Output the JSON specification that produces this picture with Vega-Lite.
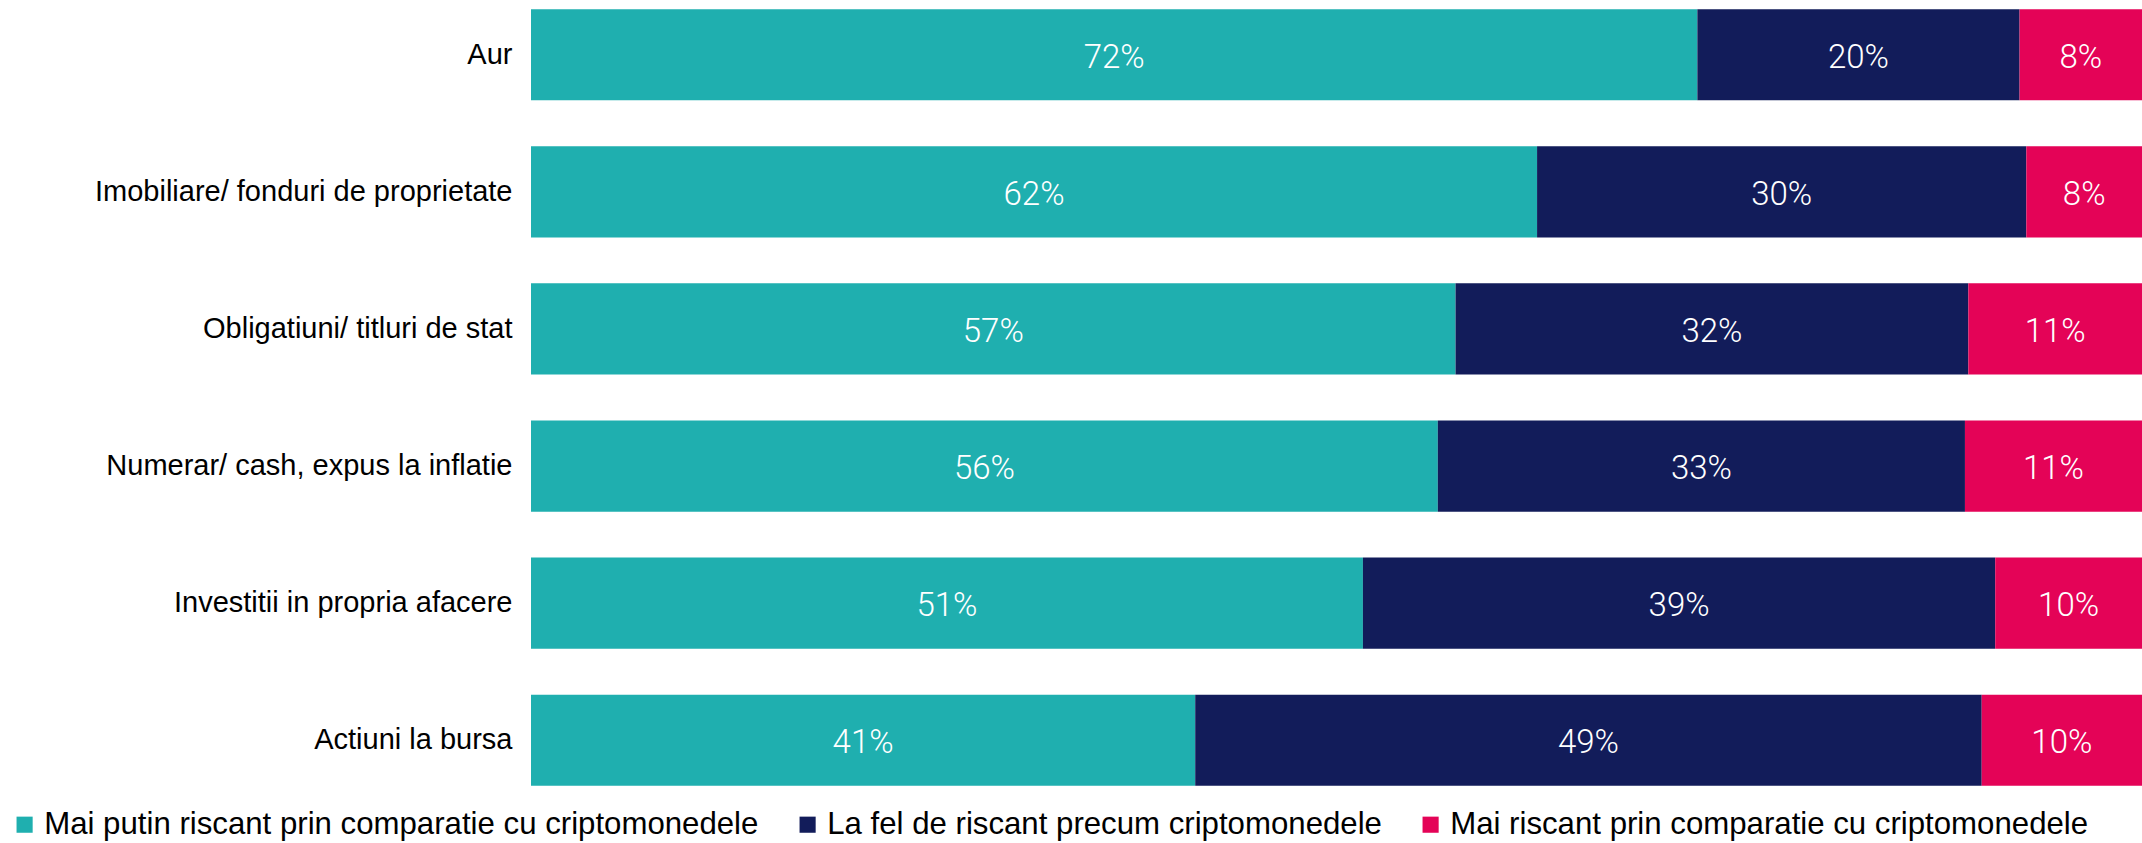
{
  "$schema": "https://vega.github.io/schema/vega-lite/v6.json",
  "autosize": "none",
  "width": 1611,
  "height": 795,
  "padding": {"left": 531, "top": 0, "right": 0, "bottom": 48},
  "background": "#ffffff",
  "config": {"view": {"stroke": null}, "font": "Liberation Sans"},
  "data": {
    "values": [
      {"cat": "Aur", "series": "Mai putin riscant prin comparatie cu criptomonedele", "ord": 1, "value": 72.4, "label": "72%"},
      {"cat": "Aur", "series": "La fel de riscant precum criptomonedele", "ord": 2, "value": 20.0, "label": "20%"},
      {"cat": "Aur", "series": "Mai riscant prin comparatie cu criptomonedele", "ord": 3, "value": 7.6, "label": "8%"},
      {"cat": "Imobiliare/ fonduri de proprietate", "series": "Mai putin riscant prin comparatie cu criptomonedele", "ord": 1, "value": 62.45, "label": "62%"},
      {"cat": "Imobiliare/ fonduri de proprietate", "series": "La fel de riscant precum criptomonedele", "ord": 2, "value": 30.37, "label": "30%"},
      {"cat": "Imobiliare/ fonduri de proprietate", "series": "Mai riscant prin comparatie cu criptomonedele", "ord": 3, "value": 7.18, "label": "8%"},
      {"cat": "Obligatiuni/ titluri de stat", "series": "Mai putin riscant prin comparatie cu criptomonedele", "ord": 1, "value": 57.39, "label": "57%"},
      {"cat": "Obligatiuni/ titluri de stat", "series": "La fel de riscant precum criptomonedele", "ord": 2, "value": 31.83, "label": "32%"},
      {"cat": "Obligatiuni/ titluri de stat", "series": "Mai riscant prin comparatie cu criptomonedele", "ord": 3, "value": 10.78, "label": "11%"},
      {"cat": "Numerar/ cash, expus la inflatie", "series": "Mai putin riscant prin comparatie cu criptomonedele", "ord": 1, "value": 56.29, "label": "56%"},
      {"cat": "Numerar/ cash, expus la inflatie", "series": "La fel de riscant precum criptomonedele", "ord": 2, "value": 32.72, "label": "33%"},
      {"cat": "Numerar/ cash, expus la inflatie", "series": "Mai riscant prin comparatie cu criptomonedele", "ord": 3, "value": 10.99, "label": "11%"},
      {"cat": "Investitii in propria afacere", "series": "Mai putin riscant prin comparatie cu criptomonedele", "ord": 1, "value": 51.64, "label": "51%"},
      {"cat": "Investitii in propria afacere", "series": "La fel de riscant precum criptomonedele", "ord": 2, "value": 39.25, "label": "39%"},
      {"cat": "Investitii in propria afacere", "series": "Mai riscant prin comparatie cu criptomonedele", "ord": 3, "value": 9.11, "label": "10%"},
      {"cat": "Actiuni la bursa", "series": "Mai putin riscant prin comparatie cu criptomonedele", "ord": 1, "value": 41.23, "label": "41%"},
      {"cat": "Actiuni la bursa", "series": "La fel de riscant precum criptomonedele", "ord": 2, "value": 48.82, "label": "49%"},
      {"cat": "Actiuni la bursa", "series": "Mai riscant prin comparatie cu criptomonedele", "ord": 3, "value": 9.95, "label": "10%"}
    ]
  },
  "transform": [
    {"stack": "value", "groupby": ["cat"], "sort": [{"field": "ord", "order": "ascending"}], "as": ["v0", "v1"]},
    {"calculate": "(datum.v0 + datum.v1) / 2", "as": "mid"}
  ],
  "encoding": {
    "y": {
      "field": "cat",
      "type": "nominal",
      "sort": ["Aur", "Imobiliare/ fonduri de proprietate", "Obligatiuni/ titluri de stat", "Numerar/ cash, expus la inflatie", "Investitii in propria afacere", "Actiuni la bursa"],
      "scale": {"paddingInner": 0.335, "paddingOuter": 0.067},
      "axis": {"title": null, "domain": false, "ticks": false, "labelFontSize": 29, "labelPadding": 19, "labelColor": "#000000", "labelLimit": 600, "labelFont": "Liberation Sans"}
    }
  },
  "layer": [
    {
      "mark": {"type": "bar"},
      "encoding": {
        "x": {"field": "v0", "type": "quantitative", "scale": {"domain": [0, 100], "nice": false}, "axis": null},
        "x2": {"field": "v1"},
        "color": {
          "field": "series",
          "type": "nominal",
          "scale": {
            "domain": ["Mai putin riscant prin comparatie cu criptomonedele", "La fel de riscant precum criptomonedele", "Mai riscant prin comparatie cu criptomonedele"],
            "range": ["#1fafaf", "#121c5a", "#e40357"]
          },
          "legend": {
            "title": null,
            "orient": "none",
            "legendX": -522,
            "legendY": 809,
            "direction": "horizontal",
            "symbolType": "square",
            "symbolSize": 260,
            "symbolStrokeWidth": 0,
            "labelFontSize": 31.2,
            "labelFont": "Liberation Sans",
            "labelColor": "#000000",
            "labelOffset": 4,
            "columnPadding": 33,
            "labelLimit": 1000
          }
        }
      }
    },
    {
      "mark": {"type": "text", "color": "#ffffff", "fontSize": 33, "font": "Roboto", "fontWeight": 300, "align": "center", "baseline": "middle", "dy": 3},
      "encoding": {
        "x": {"field": "mid", "type": "quantitative", "scale": {"domain": [0, 100], "nice": false}, "axis": null},
        "text": {"field": "label"}
      }
    }
  ]
}
